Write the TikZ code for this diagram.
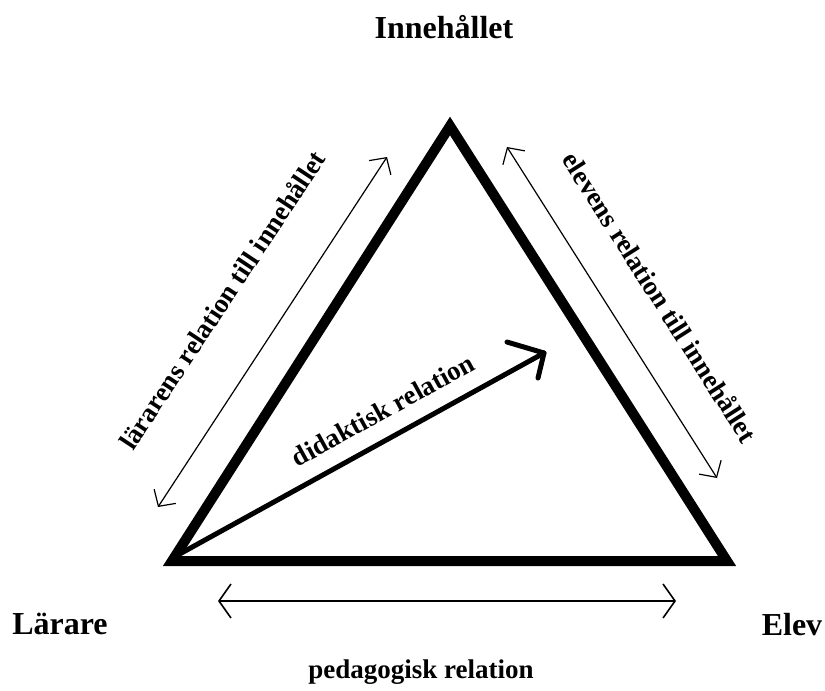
\documentclass[tikz,border=0pt]{standalone}
\usepackage{fontspec}
\setmainfont{Liberation Serif}
\usetikzlibrary{arrows.meta}
\begin{document}
\begin{tikzpicture}[x=1bp,y=-1bp,
  big/.style={font=\bfseries\fontsize{32bp}{36bp}\selectfont, inner sep=0pt},
  small/.style={font=\bfseries\fontsize{27bp}{30bp}\selectfont, inner sep=0pt},
  thinarrow/.style={line width=1.2bp, {Straight Barb[length=12bp,width=26bp]}-{Straight Barb[length=12bp,width=26bp]}},
  bottomarrow/.style={line width=1.6bp, {Straight Barb[length=12bp,width=34bp]}-{Straight Barb[length=12bp,width=34bp]}},
  tri/.style={line width=10bp, line join=miter},
  didarrow/.style={line width=5bp, line cap=round, line join=round}]
\useasboundingbox (0,0) rectangle (825,691);
% triangle
\coordinate (A) at (450,126);
\coordinate (L) at (172,561);
\coordinate (E) at (727,561);
\draw[tri] (L) -- (A) -- (E) -- cycle;
% labels
\node[big, anchor=base] (inn) at (444,39) {Innehållet};
\node[big, anchor=base] (lar) at (60,634) {Lärare};
\node[big, anchor=base] (elev) at (792,635) {Elev};
\node[small, anchor=base] (ped) at (421,678) {pedagogisk relation};
% relation arrows
\coordinate (la1) at (158,507);
\coordinate (la2) at (387,157);
\draw[thinarrow] (la1) -- (la2);
\coordinate (ea1) at (507,147);
\coordinate (ea2) at (717,478);
\draw[thinarrow] (ea1) -- (ea2);
\coordinate (pa1) at (218,601);
\coordinate (pa2) at (676,601);
\draw[bottomarrow] (pa1) -- (pa2);
% didaktisk arrow
\coordinate (D0) at (176,556);
\coordinate (D1) at (544,353);
\coordinate (B1) at (507,342);
\coordinate (B2) at (538,378);
\draw[didarrow] (D0) -- (D1);
\draw[didarrow] (B1) -- (D1) -- (B2);
% rotated texts
\node[small, rotate=56.5] (lt) at (222,300) {lärarens relation till innehållet};
\node[small, rotate=-57.5] (et) at (660,297) {elevens relation till innehållet};
\node[small, rotate=28.8] (dt) at (383,410) {didaktisk relation};
\end{tikzpicture}
\end{document}
